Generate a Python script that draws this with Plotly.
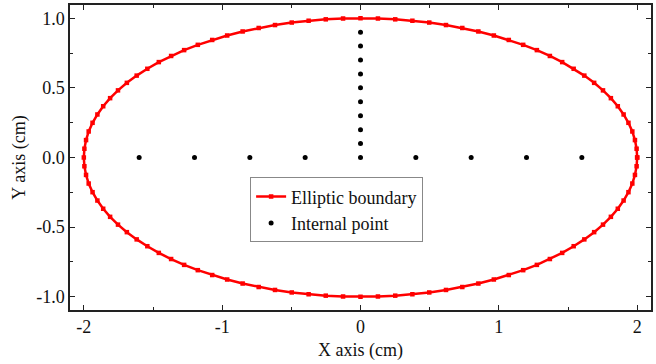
import plotly.graph_objects as go

# Elliptic boundary nodes (a=2, b=1)
boundary_x = [
    2.000, 1.996, 1.984, 1.965, 1.937, 1.902, 1.860, 1.810, 1.753, 1.689, 1.618, 1.541, 1.458,
    1.369, 1.275, 1.176, 1.072, 0.964, 0.852, 0.736, 0.618, 0.497, 0.375, 0.251, 0.126, 0.000,
    -0.126, -0.251, -0.375, -0.497, -0.618, -0.736, -0.852, -0.964, -1.072, -1.176, -1.275, -1.369,
    -1.458, -1.541, -1.618, -1.689, -1.753, -1.810, -1.860, -1.902, -1.937, -1.965, -1.984, -1.996, -2.000,
    -1.996, -1.984, -1.965, -1.937, -1.902, -1.860, -1.810, -1.753, -1.689, -1.618, -1.541, -1.458,
    -1.369, -1.275, -1.176, -1.072, -0.964, -0.852, -0.736, -0.618, -0.497, -0.375, -0.251, -0.126, 0.000,
    0.126, 0.251, 0.375, 0.497, 0.618, 0.736, 0.852, 0.964, 1.072, 1.176, 1.275, 1.369,
    1.458, 1.541, 1.618, 1.689, 1.753, 1.810, 1.860, 1.902, 1.937, 1.965, 1.984, 1.996, 2.000,
]
boundary_y = [
    0.000, 0.063, 0.125, 0.187, 0.249, 0.309, 0.368, 0.426, 0.482, 0.536, 0.588, 0.637, 0.685,
    0.729, 0.771, 0.809, 0.844, 0.876, 0.905, 0.930, 0.951, 0.969, 0.982, 0.992, 0.998, 1.000,
    0.998, 0.992, 0.982, 0.969, 0.951, 0.930, 0.905, 0.876, 0.844, 0.809, 0.771, 0.729,
    0.685, 0.637, 0.588, 0.536, 0.482, 0.426, 0.368, 0.309, 0.249, 0.187, 0.125, 0.063, 0.000,
    -0.063, -0.125, -0.187, -0.249, -0.309, -0.368, -0.426, -0.482, -0.536, -0.588, -0.637, -0.685,
    -0.729, -0.771, -0.809, -0.844, -0.876, -0.905, -0.930, -0.951, -0.969, -0.982, -0.992, -0.998, -1.000,
    -0.998, -0.992, -0.982, -0.969, -0.951, -0.930, -0.905, -0.876, -0.844, -0.809, -0.771, -0.729,
    -0.685, -0.637, -0.588, -0.536, -0.482, -0.426, -0.368, -0.309, -0.249, -0.187, -0.125, -0.063, 0.000,
]

# Internal points
internal_x = [-1.6, -1.2, -0.8, -0.4, 0.0, 0.4, 0.8, 1.2, 1.6,
              0.0, 0.0, 0.0, 0.0, 0.0, 0.0, 0.0, 0.0, 0.0]
internal_y = [0.0, 0.0, 0.0, 0.0, 0.0, 0.0, 0.0, 0.0, 0.0,
              0.1, 0.2, 0.3, 0.4, 0.5, 0.6, 0.7, 0.8, 0.9]

x_ticks = [-2, -1, 0, 1, 2]
x_tick_labels = ["-2", "-1", "0", "1", "2"]
y_ticks = [-1.0, -0.5, 0.0, 0.5, 1.0]
y_tick_labels = ["-1.0", "-0.5", "0.0", "0.5", "1.0"]

FONT = "Liberation Serif, Times New Roman, serif"
FS = 18

fig = go.Figure()
fig.add_trace(go.Scatter(
    x=boundary_x, y=boundary_y, mode="lines+markers", name="Elliptic boundary",
    line=dict(color="#ff0000", width=2.5),
    marker=dict(symbol="square", size=4.5, color="#ff0000"),
))
fig.add_trace(go.Scatter(
    x=internal_x, y=internal_y, mode="markers", name="Internal point",
    marker=dict(symbol="circle", size=5, color="#000000"),
))

axis_common = dict(
    showline=True, linecolor="#222222", linewidth=1.5, mirror="ticks",
    ticks="inside", ticklen=5, tickwidth=1.2, tickcolor="#222222",
    showgrid=False, zeroline=False,
    tickfont=dict(family=FONT, size=FS, color="#111111"),
)

fig.update_xaxes(
    range=[-2.1, 2.1], tickvals=x_ticks, ticktext=x_tick_labels,
    minor=dict(ticks="inside", ticklen=3, tickwidth=1, tickcolor="#222222", dtick=0.5, showgrid=False),
    title=dict(text="X axis (cm)", font=dict(family=FONT, size=FS, color="#111111"), standoff=7),
    **axis_common,
)
fig.update_yaxes(
    range=[-1.095, 1.095], tickvals=y_ticks, ticktext=y_tick_labels,
    minor=dict(ticks="inside", ticklen=3, tickwidth=1, tickcolor="#222222", dtick=0.25, showgrid=False),
    title=dict(text="Y axis (cm)", font=dict(family=FONT, size=FS, color="#111111"), standoff=6),
    **axis_common,
)

fig.update_layout(
    width=656, height=364,
    margin=dict(l=70, r=5, t=5, b=54, autoexpand=False),
    plot_bgcolor="white", paper_bgcolor="white",
    font=dict(family=FONT, size=FS, color="#111111"),
    legend=dict(
        x=0.31, y=0.435, xanchor="left", yanchor="top",
        bordercolor="#888888", borderwidth=1, bgcolor="white",
        font=dict(family=FONT, size=FS, color="#111111"),
        tracegroupgap=0, itemwidth=30,
    ),
)

fig.write_html("out.html", config={"displayModeBar": False},
               post_script="document.body.style.margin='0';")
